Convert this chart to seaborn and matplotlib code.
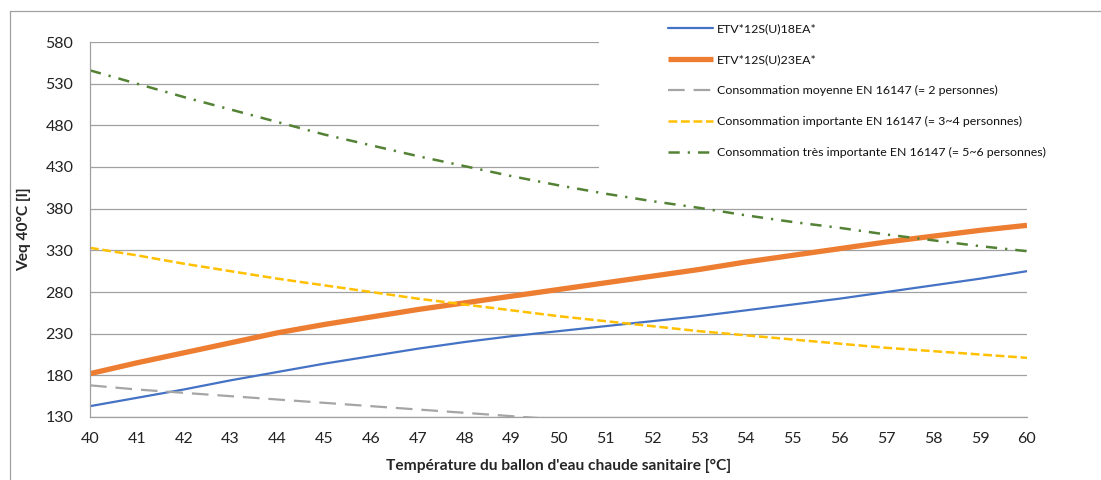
import numpy as np
import pandas as pd
import matplotlib
matplotlib.use("Agg")
import matplotlib.pyplot as plt
import seaborn as sns
from matplotlib.patches import Rectangle
from matplotlib.lines import Line2D

# values (Veq 40°C in litres)
temps = list(range(40, 61))
etv18 = [143, 153, 163, 174, 184, 194, 203, 212, 220, 227, 233,
         239, 245, 251, 258, 265, 272, 280, 288, 296, 305]
etv23 = [182, 195, 207, 219, 231, 241, 250, 259, 267, 275, 283,
         291, 299, 307, 316, 324, 332, 340, 347, 354, 360]
conso_moy = [168, 163, 159, 155, 151, 147, 143, 139, 135, 131, 127,
             124, 121, 118, 115, 112, 109, 107, 105, 103, 101]
conso_imp = [333, 324, 314, 305, 296, 288, 280, 272, 265, 258, 251,
             245, 239, 233, 228, 223, 218, 213, 209, 205, 201]
conso_tres = [546, 530, 514, 499, 484, 469, 456, 443, 431, 419, 408,
              398, 389, 381, 372, 364, 357, 349, 342, 335, 329]

labels = [
    "ETV*12S(U)18EA*",
    "ETV*12S(U)23EA*",
    "Consommation moyenne EN 16147 (= 2 personnes)",
    "Consommation importante EN 16147 (= 3~4 personnes)",
    "Consommation très importante EN 16147 (= 5~6 personnes)",
]
y_ticks = list(range(130, 581, 50))

sns.set_style("white")
plt.rcParams["font.family"] = ["Lato", "DejaVu Sans"]

series = [etv18, etv23, conso_moy, conso_imp, conso_tres]
styles = [
    dict(color="#4472C4", lw=1.6, linestyle="-"),
    dict(color="#ED7D31", lw=3.8, linestyle="-", solid_capstyle="butt"),
    dict(color="#A5A5A5", lw=1.6, linestyle=(0, (7.5, 4))),
    dict(color="#FFC000", lw=1.8, linestyle=(0, (3.5, 1.5))),
    dict(color="#548235", lw=1.8, linestyle=(0, (4.5, 3.2, 0.9, 3.2))),
]

fig = plt.figure(figsize=(11.01, 4.8), dpi=100)
ax = fig.add_axes([90 / 1101, 1 - 417 / 480, 937 / 1101, 375 / 480])

for vals, lab, st in zip(series, labels, styles):
    sns.lineplot(x=temps, y=vals, ax=ax, label=lab, **st)

ax.set_xlim(40, 60)
ax.set_ylim(130, 580)
ax.set_xticks(temps)
ax.set_yticks(y_ticks)
ax.grid(axis="y", color="#a0a0a0", lw=0.9)
ax.set_axisbelow(True)
for s in ["top", "right"]:
    ax.spines[s].set_visible(False)
for s in ["left", "bottom"]:
    ax.spines[s].set_color("#a0a0a0")
    ax.spines[s].set_linewidth(0.9)
ax.tick_params(axis="both", colors="#a0a0a0", labelcolor="#222222",
               labelsize=11.5, length=4, width=0.9, direction="out")
ax.tick_params(axis="y", pad=8)
ax.tick_params(axis="x", pad=7)

ax.set_xlabel("Température du ballon d'eau chaude sanitaire [°C]",
              fontsize=11.2, fontweight="bold", labelpad=9)
ax.set_ylabel("Veq 40°C [l]", fontsize=11.2, fontweight="bold", labelpad=10)

# white area behind the legend hides the upper gridlines
ax.add_patch(Rectangle((509 / 937, 232 / 375), 428 / 937, 143 / 375,
                       transform=ax.transAxes, facecolor="white",
                       edgecolor="none", zorder=1.7, clip_on=False))

h, l = ax.get_legend_handles_labels()
ax.legend_.remove()
fig.legend(h, l, loc="upper left", bbox_to_anchor=(668 / 1101, 1 - 23 / 480),
           frameon=False, fontsize=8.9, handlelength=3.6, handletextpad=0.35,
           labelspacing=1.62, borderpad=0, borderaxespad=0,
           labelcolor="#111111")

# chart border (left and top edges visible)
fig.add_artist(Line2D([10 / 1101, 10 / 1101], [0, 1 - 11 / 480],
                      transform=fig.transFigure, color="#a0a0a0", lw=0.9))
fig.add_artist(Line2D([10 / 1101, 1], [1 - 11 / 480, 1 - 11 / 480],
                      transform=fig.transFigure, color="#a0a0a0", lw=0.9))

fig.savefig("out.png", dpi=100)
